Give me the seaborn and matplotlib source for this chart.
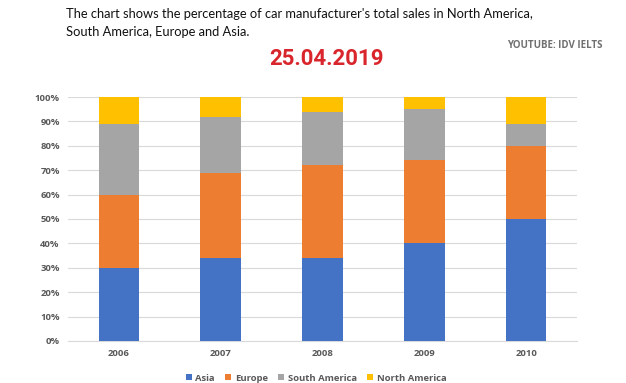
import numpy as np
import pandas as pd
import matplotlib
matplotlib.use("Agg")
import matplotlib.pyplot as plt
import seaborn as sns
from matplotlib.patches import Patch
from matplotlib.ticker import PercentFormatter

years = ["2006", "2007", "2008", "2009", "2010"]
regions = ["Asia", "Europe", "South America", "North America"]
asia = [30, 34, 34, 40, 50]
europe = [30, 35, 38, 34, 30]
south_america = [29, 23, 22, 21, 9]
north_america = [11, 8, 6, 5, 11]
colors = ["#4472C4", "#ED7D31", "#A5A5A5", "#FFC000"]

df = pd.DataFrame({"Year": years, "Asia": asia, "Europe": europe,
                   "South America": south_america, "North America": north_america})
cum = df[regions].cumsum(axis=1)

sns.set_theme(style="white")
plt.rcParams["font.family"] = ["Lato", "DejaVu Sans"]
label_font = ["Open Sans", "DejaVu Sans"]

fig = plt.figure(figsize=(6.26, 3.83), dpi=100)
ax = fig.add_axes([0.1086, 0.1097, 0.8131, 0.637])

# draw tallest stack first so lower segments sit on top
for reg, col in reversed(list(zip(regions, colors))):
    sns.barplot(x=df["Year"], y=cum[reg], color=col, width=0.4, ax=ax,
                saturation=1, edgecolor="none", zorder=3)

ax.set_ylim(0, 100)
ax.set_xlim(-0.5, 4.5)
ax.set_yticks(np.arange(0, 101, 10))
ax.yaxis.set_major_formatter(PercentFormatter(decimals=0))
ax.grid(axis="y", color="#D9D9D9", linewidth=0.8, zorder=0)
ax.set_axisbelow(True)
for s in ["left", "right", "top"]:
    ax.spines[s].set_visible(False)
ax.spines["bottom"].set_color("#D9D9D9")
ax.spines["bottom"].set_linewidth(0.8)
ax.set_xlabel("")
ax.set_ylabel("")
ax.tick_params(axis="both", length=0, labelsize=6.8, labelcolor="#595959", pad=6,
               labelfontfamily=label_font)
fig.canvas.draw()
for lbl in ax.get_xticklabels() + ax.get_yticklabels():
    lbl.set_fontweight("bold")

handles = [Patch(facecolor=c, edgecolor="none") for c in colors]
leg = fig.legend(handles, regions, loc="center", bbox_to_anchor=(0.505, 0.013), ncol=4,
                 frameon=False, handlelength=0.6, handleheight=0.6,
                 handletextpad=0.4, columnspacing=1.1,
                 prop={"family": label_font, "weight": "bold", "size": 6.8})
for t in leg.get_texts():
    t.set_color("#595959")

fig.text(0.106, 0.98, "The chart shows the percentage of car manufacturer's total sales in North America,\nSouth America, Europe and Asia.",
         ha="left", va="top", fontsize=9.3, color="#111111", linespacing=1.6)
fig.text(0.962, 0.88, "YOUTUBE: IDV IELTS", ha="right", va="center",
         fontsize=7, color="#707070", fontweight="bold", family=label_font)
fig.text(0.521, 0.845, "25.04.2019", ha="center", va="center", fontsize=16,
         color="#D9262C", fontweight="bold",
         family=["Liberation Sans Narrow", "Roboto", "DejaVu Sans"])

fig.savefig("out.png", dpi=100)
